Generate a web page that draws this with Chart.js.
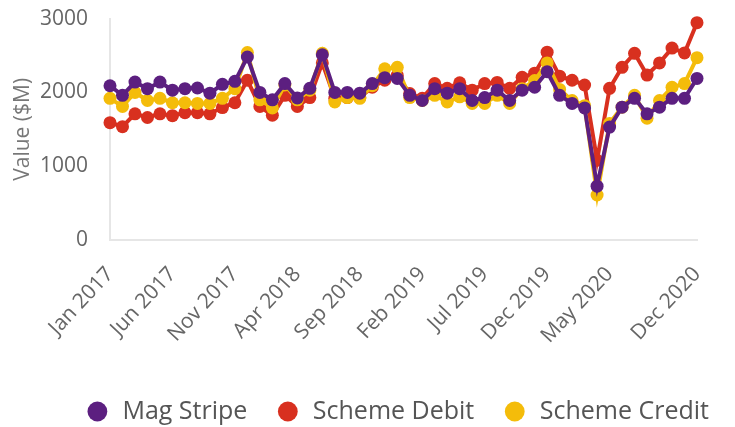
<!DOCTYPE html>
<html>
<head>
<meta charset="utf-8">
<script src="https://cdn.jsdelivr.net/npm/chart.js@4/dist/chart.umd.min.js"></script>
<style>
  body { margin: 0; background: #fff; }
  #wrap { width: 735px; height: 427px; }
</style>
</head>
<body>
<div id="wrap"><canvas id="chart"></canvas></div>
<script>
const months = [
  "Jan 2017", "Feb 2017", "Mar 2017", "Apr 2017", "May 2017", "Jun 2017", "Jul 2017", "Aug 2017", "Sep 2017", "Oct 2017", "Nov 2017", "Dec 2017",
  "Jan 2018", "Feb 2018", "Mar 2018", "Apr 2018", "May 2018", "Jun 2018", "Jul 2018", "Aug 2018", "Sep 2018", "Oct 2018", "Nov 2018", "Dec 2018",
  "Jan 2019", "Feb 2019", "Mar 2019", "Apr 2019", "May 2019", "Jun 2019", "Jul 2019", "Aug 2019", "Sep 2019", "Oct 2019", "Nov 2019", "Dec 2019",
  "Jan 2020", "Feb 2020", "Mar 2020", "Apr 2020", "May 2020", "Jun 2020", "Jul 2020", "Aug 2020", "Sep 2020", "Oct 2020", "Nov 2020", "Dec 2020"
];

// shown x labels (every 5th month plus the last one)
const shownLabels = ["Jan 2017", "Jun 2017", "Nov 2017", "Apr 2018", "Sep 2018", "Feb 2019", "Jul 2019", "Dec 2019", "May 2020", "Dec 2020"];

const magStripe = [
  2090, 1960, 2140, 2050, 2140, 2030, 2050, 2060, 1990, 2110, 2150, 2480,
  2000, 1900, 2120, 1925, 2055, 2510, 2000, 2000, 1990, 2120, 2200, 2190,
  1960, 1890, 2050, 1990, 2050, 1890, 1930, 2030, 1890, 2030, 2070, 2280,
  1960, 1850, 1790, 730, 1530, 1800, 1920, 1710, 1800, 1920, 1920, 2190
];

const schemeDebit = [
  1590, 1535, 1710, 1660, 1710, 1685, 1725, 1725, 1710, 1795, 1860, 2165,
  1810, 1690, 1960, 1810, 1930, 2400, 1920, 1930, 1930, 2070, 2165, 2230,
  1985, 1920, 2120, 2055, 2130, 2030, 2120, 2135, 2055, 2205, 2260, 2545,
  2220, 2165, 2100, 1080, 2055, 2340, 2530, 2235, 2400, 2600, 2535, 2945
];

const schemeCredit = [
  1920, 1810, 2000, 1890, 1920, 1860, 1860, 1850, 1850, 1920, 2050, 2540,
  1900, 1790, 2100, 1900, 2030, 2530, 1870, 1930, 1920, 2090, 2320, 2340,
  1930, 1890, 1960, 1870, 1940, 1850, 1850, 1960, 1850, 2050, 2160, 2400,
  2040, 1890, 1820, 610, 1580, 1800, 1960, 1650, 1890, 2070, 2120, 2470
];

const yTicks = [0, 1000, 2000, 3000];

const purple = "#5c1f80";
const red = "#d8301f";
const yellow = "#f4bc0a";

function series(label, data, color, order) {
  return {
    label: label,
    data: data,
    borderColor: color,
    backgroundColor: color,
    pointBackgroundColor: color,
    pointBorderColor: color,
    borderWidth: 4,
    pointRadius: 6.5,
    pointBorderWidth: 0,
    tension: 0,
    clip: false,
    order: order,
  };
}

// nudge the legend to the right, like in the original
const legendShift = {
  id: "legendShift",
  afterLayout(chart) {
    const lg = chart.legend;
    if (!lg) return;
    lg.left += 40;
    lg.right += 40;
  },
};

const ctx = document.getElementById("chart").getContext("2d");
new Chart(ctx, {
  type: "line",
  data: {
    labels: months,
    datasets: [
      series("Mag Stripe", magStripe, purple, 1),
      series("Scheme Debit", schemeDebit, red, 3),
      series("Scheme Credit", schemeCredit, yellow, 2),
    ],
  },
  plugins: [legendShift],
  options: {
    responsive: true,
    maintainAspectRatio: false,
    animation: false,
    layout: {
      autoPadding: false,
      padding: { left: 10, right: 38, top: 0, bottom: -7 },
    },
    plugins: {
      legend: {
        position: "bottom",
        align: "end",
        labels: {
          usePointStyle: true,
          pointStyle: "circle",
          boxWidth: 25,
          boxHeight: 14,
          padding: 28,
          color: "#555",
          font: { family: "'Open Sans'", size: 25 },
          sort: (a, b) => a.datasetIndex - b.datasetIndex,
        },
      },
      tooltip: { enabled: false },
    },
    scales: {
      x: {
        grid: { display: false },
        border: { display: true, color: "#e6e6e6", width: 2 },
        afterFit: function (scale) {
          scale.height = 131;
        },
        ticks: {
          autoSkip: false,
          maxRotation: 47,
          minRotation: 47,
          padding: 14,
          color: "#666",
          font: { family: "'Open Sans'", size: 21 },
          callback: function (value, index) {
            const lbl = months[index];
            return shownLabels.includes(lbl) ? lbl : "";
          },
        },
      },
      y: {
        min: 0,
        max: 3000,
        afterBuildTicks: function (axis) {
          axis.ticks = yTicks.map((v) => ({ value: v }));
        },
        afterFit: function (scale) {
          scale.width = 100;
        },
        grid: { display: false, drawTicks: true, tickLength: 16 },
        border: { display: true, color: "#e6e6e6", width: 2 },
        title: {
          display: true,
          text: "Value ($M)",
          color: "#777",
          font: { family: "'Open Sans'", size: 21 },
          padding: { top: 0, bottom: 0 },
        },
        ticks: {
          color: "#666",
          padding: 6,
          font: { family: "'Open Sans'", size: 21 },
          callback: (v) => String(v),
        },
      },
    },
  },
});
</script>
</body>
</html>
